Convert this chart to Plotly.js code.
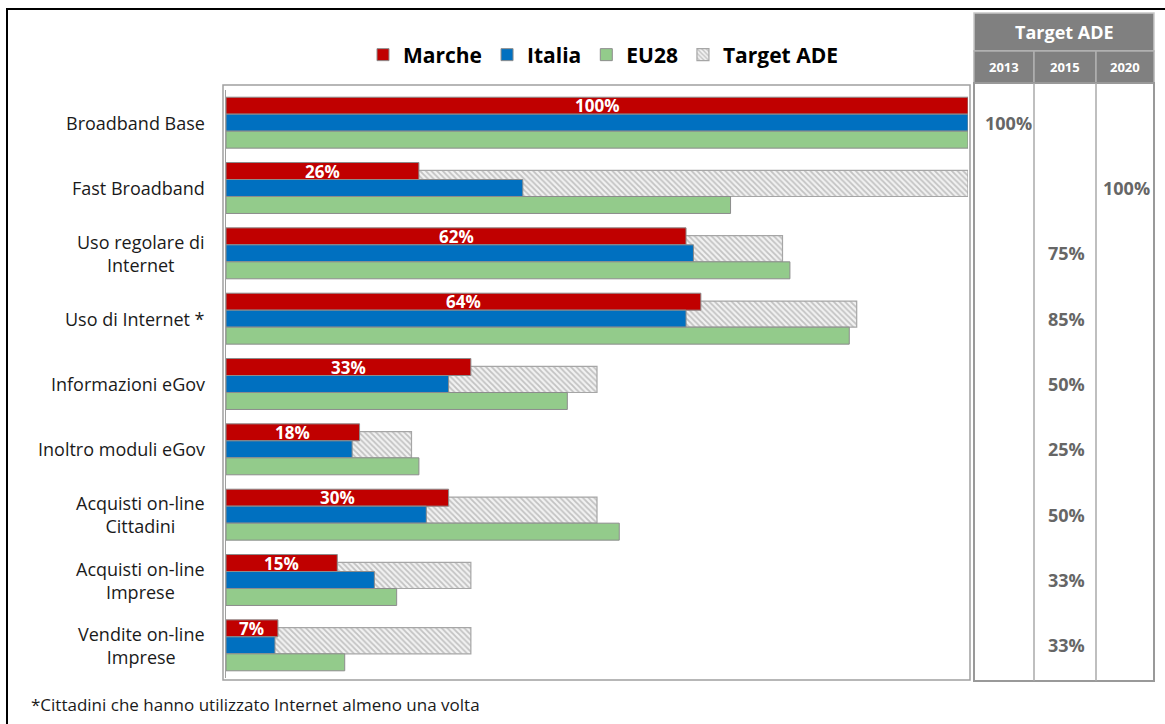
<!DOCTYPE html>
<html>
<head>
<meta charset="utf-8">
<script src="https://cdn.plot.ly/plotly-3.0.1.min.js"></script>
<style>html,body{margin:0;padding:0;background:#fff;}#chart{width:1165px;height:724px;}</style>
</head>
<body>
<div id="chart"></div>
<script>
const categories = ['Broadband Base','Fast Broadband','Uso regolare di<br>Internet','Uso di Internet *','Informazioni eGov','Inoltro moduli eGov','Acquisti on-line<br>Cittadini','Acquisti on-line<br>Imprese','Vendite on-line<br>Imprese'];
const marche = [100, 26, 62, 64, 33, 18, 30, 15, 7];
const italia = [100, 40, 63, 62, 30, 17, 27, 20, 6.6];
const eu28 = [100, 68, 76, 84, 46, 26, 53, 23, 16];
const target = [100, 100, 75, 85, 50, 25, 50, 33, 33];
const targetYear = ['2013','2020','2015','2015','2015','2015','2015','2015','2015'];
const years = ['2013','2015','2020'];
const seriesNames = ['Marche','Italia','EU28','Target ADE'];
const footnote = '*Cittadini che hanno utilizzato Internet almeno una volta';

const FONT = '"Open Sans", sans-serif';
const PL = 226, PR = 968, PT = 90, PB = 678, W = 1165, H = 724;
const px = p => (p - PL) / (PR - PL);
const py = p => (PB - p) / (PB - PT);

const BW = 0.26;
const lineGray = '#8c8c8c';

const traces = [
  {type:'bar', orientation:'h', name:seriesNames[3], x:target, y:categories, offset:-0.27, width:0.40,
   marker:{color:'#f2f2f2', line:{color:'#a6a6a6', width:1.2}, pattern:{shape:'\\', fgcolor:'#c2c2c2', bgcolor:'#f2f2f2', size:4, solidity:0.45}},
   legendrank:4, hoverinfo:'skip'},
  {type:'bar', orientation:'h', name:seriesNames[0], x:marche, y:categories, offset:-0.39, width:BW,
   marker:{color:'#C00000', line:{color:lineGray, width:1}}, legendrank:1, hoverinfo:'skip'},
  {type:'bar', orientation:'h', name:seriesNames[1], x:italia, y:categories, offset:-0.13, width:BW,
   marker:{color:'#0070C0', line:{color:lineGray, width:1}}, legendrank:2, hoverinfo:'skip'},
  {type:'bar', orientation:'h', name:seriesNames[2], x:eu28, y:categories, offset:0.13, width:BW,
   marker:{color:'#93CB8B', line:{color:lineGray, width:1}}, legendrank:3, hoverinfo:'skip'}
];

const annotations = [];
categories.forEach((c, i) => {
  annotations.push({xref:'paper', x:px(207), xanchor:'right', yref:'y', y:i, yanchor:'middle',
    text:c, align:'center', showarrow:false, font:{family:FONT, size:18, color:'#1a1a1a'}});
  annotations.push({xref:'x', x:marche[i]/2, xanchor:'center', yref:'y', y:i-0.26, yanchor:'middle',
    text:marche[i] + '%', showarrow:false, font:{family:FONT, size:17, color:'#ffffff', weight:'bold'}});
});

// table geometry (pixels)
const colEdges = [974, 1034, 1096, 1154];
const colCenters = {'2013':1008, '2015':1066, '2020':1126};
target.forEach((v, i) => {
  annotations.push({xref:'paper', x:px(colCenters[targetYear[i]]), xanchor:'center', yref:'y', y:i, yanchor:'middle',
    text:v + '%', showarrow:false, font:{family:FONT, size:18, color:'#666666', weight:'bold'}});
});
annotations.push({xref:'paper', x:px((colEdges[0]+colEdges[3])/2), xanchor:'center', yref:'paper', y:py(32), yanchor:'middle',
  text:'Target ADE', showarrow:false, font:{family:FONT, size:18, color:'#ffffff', weight:'bold'}});
years.forEach((yr, k) => {
  annotations.push({xref:'paper', x:px((colEdges[k]+colEdges[k+1])/2), xanchor:'center', yref:'paper', y:py(67), yanchor:'middle',
    text:yr, showarrow:false, font:{family:FONT, size:13, color:'#ffffff', weight:'bold'}});
});
annotations.push({xref:'paper', x:px(29), xanchor:'left', yref:'paper', y:py(704), yanchor:'middle',
  text:footnote, showarrow:false, font:{family:FONT, size:17, color:'#1a1a1a'}});

const shapes = [];
// outer frame
shapes.push({type:'rect', xref:'paper', yref:'paper', x0:px(7), x1:px(1200), y0:py(9), y1:py(760), line:{color:'#000', width:2}, layer:'below'});
// plot frame
shapes.push({type:'rect', xref:'paper', yref:'paper', x0:px(223), x1:px(970), y0:py(85), y1:py(680), line:{color:'#a0a0a0', width:1.5}, layer:'below'});
// table header
shapes.push({type:'rect', xref:'paper', yref:'paper', x0:px(974), x1:px(1154), y0:py(13), y1:py(51), fillcolor:'#808080', line:{color:'#c8c8c8', width:1.5}});
for (let k = 0; k < 3; k++) {
  shapes.push({type:'rect', xref:'paper', yref:'paper', x0:px(colEdges[k]), x1:px(colEdges[k+1]), y0:py(51), y1:py(83), fillcolor:'#808080', line:{color:'#b0b0b0', width:1.5}});
}
// table body
shapes.push({type:'rect', xref:'paper', yref:'paper', x0:px(974), x1:px(1154), y0:py(83), y1:py(681), line:{color:'#999', width:2}});
[1034, 1096].forEach(e => shapes.push({type:'line', xref:'paper', yref:'paper', x0:px(e), x1:px(e), y0:py(83), y1:py(681), line:{color:'#aaa', width:1.5}}));

const layout = {
  width:W, height:H,
  margin:{l:PL, r:W-PR, t:PT, b:H-PB, pad:0},
  paper_bgcolor:'#ffffff', plot_bgcolor:'#ffffff',
  barmode:'overlay',
  showlegend:true,
  legend:{orientation:'h', x:px(603), xanchor:'center', y:py(55), yanchor:'middle', xref:'paper', yref:'paper',
    font:{family:FONT, size:21, color:'#000', weight:'bold'}, itemwidth:30, traceorder:'normal', bgcolor:'rgba(0,0,0,0)'},
  xaxis:{range:[0,100], visible:false, fixedrange:true},
  yaxis:{type:'category', categoryarray:categories, range:[8.5,-0.5], autorange:false, showticklabels:false,
    showline:true, linecolor:'#a0a0a0', linewidth:1.5, showgrid:false, zeroline:false, ticks:'', fixedrange:true},
  font:{family:FONT},
  annotations:annotations,
  shapes:shapes
};

Plotly.newPlot('chart', traces, layout, {displayModeBar:false, staticPlot:true});
</script>
</body>
</html>
